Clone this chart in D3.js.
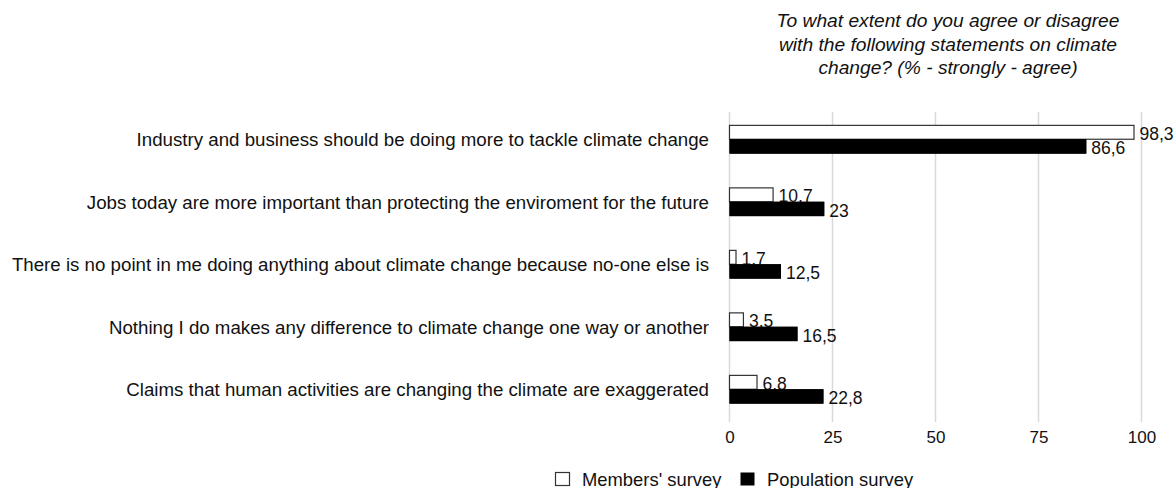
<!DOCTYPE html>
<html><head><meta charset="utf-8">
<script src="https://cdn.jsdelivr.net/npm/d3@7"></script>
<style>
body{margin:0;background:#fff;}
text{font-family:"Liberation Sans",Arial,Helvetica,sans-serif;fill:#111;}
</style></head>
<body><svg id="c" width="1175" height="488"></svg>
<script>
const categories = [
  "Industry and business should be doing more to tackle climate change",
  "Jobs today are more important than protecting the enviroment for the future",
  "There is no point in me doing anything about climate change because no-one else is",
  "Nothing I do makes any difference to climate change one way or another",
  "Claims that human activities are changing the climate are exaggerated"
];
const seriesNames = ["Members' survey", "Population survey"];
const members = [98.3, 10.7, 1.7, 3.5, 6.8];
const population = [86.6, 23, 12.5, 16.5, 22.8];
const tickValues = [0, 25, 50, 75, 100];
const titleLines = ["To what extent do you agree or disagree", "with the following statements on climate", "change? (% - strongly - agree)"];

const svg = d3.select("#c");
const x = d3.scaleLinear().domain([0, 100]).range([729.5, 1141.5]);
const y0 = d3.scaleBand().domain(categories).range([108, 420.5]).paddingInner(0.54).paddingOuter(0.27);
const y1 = d3.scaleBand().domain(seriesNames).range([0, y0.bandwidth()]);
const fmt = v => String(v).replace(".", ",");

// gridlines
svg.append("g").selectAll("line").data(tickValues).join("line")
  .attr("x1", d => x(d)).attr("x2", d => x(d))
  .attr("y1", 112).attr("y2", 422)
  .attr("stroke", "#d9d9d9").attr("stroke-width", 1.5);

// axis tick labels
const ax = d3.axisBottom(x).tickValues(tickValues).tickSize(0).tickPadding(0);
const axg = svg.append("g").attr("transform", "translate(0,430.5)").call(ax);
axg.select(".domain").remove();
axg.selectAll("text").attr("font-size", 17).attr("font-family", "Liberation Sans").attr("fill", "#111").attr("dy", "0.75em");

// category labels
svg.append("g").selectAll("text").data(categories).join("text")
  .attr("x", 709).attr("y", d => y0(d) + y0.bandwidth() / 2)
  .attr("dy", "0.38em").attr("text-anchor", "end").attr("font-size", 18.7)
  .text(d => d);

const rows = categories.map((c, i) => ({c, vals: [members[i], population[i]]}));

// bars
const gBars = svg.append("g");
rows.forEach(r => {
  r.vals.forEach((v, j) => {
    const s = seriesNames[j];
    gBars.append("rect")
      .attr("x", x(0)).attr("y", y0(r.c) + y1(s) + (j === 0 ? 0.5 : 0))
      .attr("width", x(v) - x(0) - (j === 0 ? 0.5 : 0))
      .attr("height", y1.bandwidth() - (j === 0 ? 0.5 : 0))
      .attr("fill", j === 0 ? "#fff" : "#000")
      .attr("stroke", j === 0 ? "#333" : "none")
      .attr("stroke-width", 1.2);
  });
});
// labels
rows.forEach(r => {
  r.vals.forEach((v, j) => {
    const s = seriesNames[j];
    svg.append("text")
      .attr("x", x(v) + 5).attr("y", y0(r.c) + y1(s) + y1.bandwidth() / 2 + 1.5)
      .attr("dy", "0.36em").attr("font-size", 17.5)
      .text(fmt(v));
  });
});
// redraw black bars over the member labels so descenders vanish like reference
rows.forEach(r => {
  svg.append("rect")
    .attr("x", x(0)).attr("y", y0(r.c) + y1(seriesNames[1]))
    .attr("width", x(r.vals[1]) - x(0)).attr("height", y1.bandwidth())
    .attr("fill", "#000");
});

// title
svg.append("g").selectAll("text").data(titleLines).join("text")
  .attr("x", 948).attr("y", (d, i) => 27 + i * 23.5)
  .attr("text-anchor", "middle").attr("font-style", "italic").attr("font-size", 19.2)
  .text(d => d);

// legend
const leg = svg.append("g");
const legX = [555, 740];
seriesNames.forEach((s, j) => {
  leg.append("rect").attr("x", legX[j] + 0.5).attr("y", 472.5).attr("width", 14).attr("height", 13)
    .attr("fill", j === 0 ? "#fff" : "#000").attr("stroke", j === 0 ? "#333" : "none").attr("stroke-width", 1.2);
  leg.append("text").attr("x", legX[j] + 27).attr("y", 485.5).attr("font-size", 18.4).text(s);
});
</script></body></html>
